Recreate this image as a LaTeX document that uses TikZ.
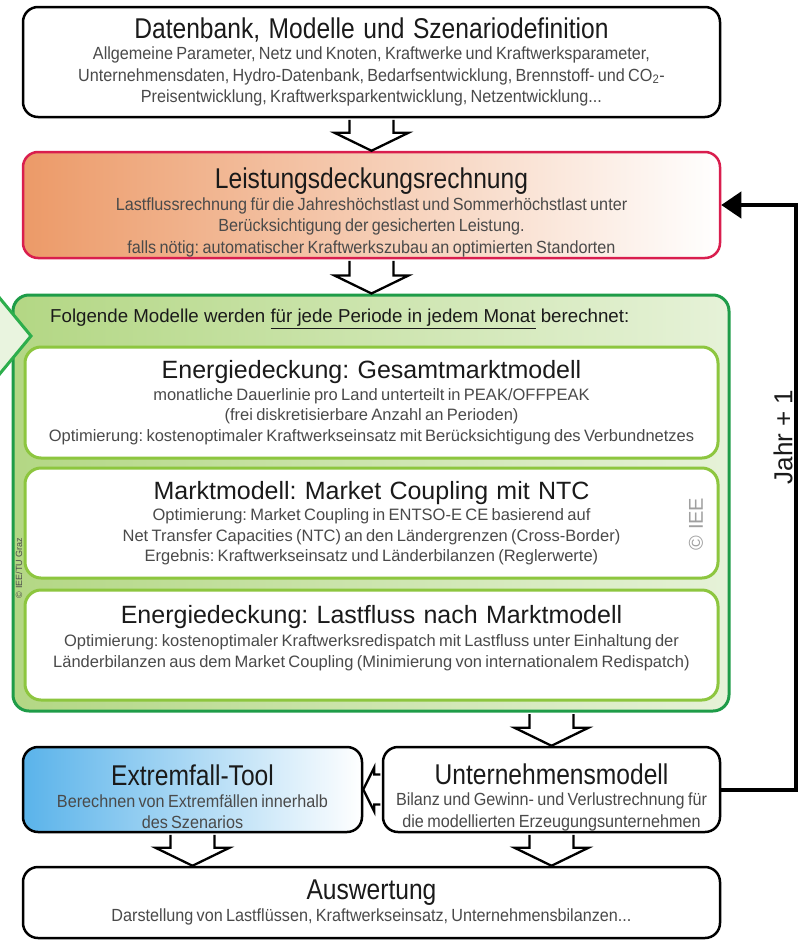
\documentclass[tikz,border=0pt]{standalone}
\usepackage{fontspec}
\setmainfont{Liberation Sans}
\newfontfamily\condfont[FakeStretch=0.86]{Liberation Sans}
\newfontfamily\subfont[FakeStretch=0.92]{Liberation Sans}
\usetikzlibrary{arrows.meta,calc}
\frenchspacing
\definecolor{txtdark}{HTML}{1A1A1A}
\definecolor{txtgray}{HTML}{4A4A4A}
\definecolor{redborder}{HTML}{D91E4E}
\definecolor{orangeL}{HTML}{EC9A68}
\definecolor{greenDark}{HTML}{1E9C48}
\definecolor{greenMid}{HTML}{2DAE4C}
\definecolor{greenLight}{HTML}{8DC63F}
\definecolor{greenFillL}{HTML}{B3D784}
\definecolor{greenFillR}{HTML}{E6F2D8}
\definecolor{chevFill}{HTML}{E9F4DF}
\definecolor{blueL}{HTML}{5AB3EA}
\definecolor{copygray}{HTML}{A0A0A0}
\newcommand\ttl[1]{{\condfont\fontsize{28.6}{32}\selectfont\spaceskip=0.3em\color{txtdark}#1\par}}
\newcommand\csub[1]{{\subfont\fontsize{17.6}{21.5}\selectfont\color{txtgray}#1\par}}
\newcommand\ntl[1]{{\fontsize{25}{28}\selectfont\spaceskip=0.33em\color{txtdark}#1\par}}
\newcommand\nsub[1]{{\fontsize{16.5}{20.5}\selectfont\color{txtgray}#1\par}}
\newcommand\hdown[2]{%
  \path[hollowarr] let \p1=(#1), \p2=(#2) in
   (\x1-22pt,\y1-1.5pt) -- (\x1-22pt,\y2+18pt) -- (\x1-37pt,\y2+18pt) -- (\x1,\y2)
   -- (\x1+37pt,\y2+18pt) -- (\x1+22pt,\y2+18pt) -- (\x1+22pt,\y1-1.5pt);}
\newcommand\hleft[2]{%
  \path[hollowarr] let \p1=(#1), \p2=(#2) in
   (\x1-1.5pt,\y1+15pt) -- (\x2+11pt,\y1+15pt) -- (\x2+11pt,\y1+22pt) -- (\x2,\y1)
   -- (\x2+11pt,\y1-22pt) -- (\x2+11pt,\y1-15pt) -- (\x1-1.5pt,\y1-15pt);}
\begin{document}
\begin{tikzpicture}[x=1pt,y=-1pt,
  box/.style={draw=black, line width=2.5pt, rounded corners=15pt, fill=white,
    align=center, inner sep=0pt},
  inbox/.style={draw=greenLight, line width=3pt, rounded corners=16pt, fill=white,
    align=center, inner sep=0pt, text width=693pt},
  hollowarr/.style={draw=black, line width=2.3pt, fill=white, line join=miter},
  loopline/.style={line width=4pt, -{Triangle[length=20pt,width=26pt]}}]
\useasboundingbox (0,0) rectangle (800,940);

% top box
\node[box, text width=697pt, minimum height=110pt] (top) at (371.5,62)
  {\ttl{Datenbank, Modelle und Szenariodefinition}
   \csub{Allgemeine Parameter, Netz und Knoten, Kraftwerke und Kraftwerksparameter,\\
   Unternehmensdaten, Hydro-Datenbank, Bedarfsentwicklung, Brennstoff- und CO\textsubscript{2}-\\
   Preisentwicklung, Kraftwerksparkentwicklung, Netzentwicklung...}};

% Leistungsdeckungsrechnung
\node[box, draw=redborder, left color=orangeL, right color=white,
  text width=697pt, minimum height=106pt] (leist) at (371.5,205)
  {\ttl{\rule{0pt}{36pt}Leistungsdeckungsrechnung}
   \csub{Lastflussrechnung für die Jahreshöchstlast und Sommerhöchstlast unter\\
   Berücksichtigung der gesicherten Leistung.\\
   falls nötig: automatischer Kraftwerkszubau an optimierten Standorten}};

% green outer
\node[draw=greenDark, line width=3pt, rounded corners=16pt,
  left color=greenFillL, right color=greenFillR,
  minimum width=716pt, minimum height=416pt] (green) at (371,503) {};

% chevron
\filldraw[draw=greenMid, fill=chevFill, line width=3pt, line join=miter]
  (-2,296) -- (31,336) -- (-2,376);

\node[anchor=west, inner sep=0pt, text=txtdark, font=\fontsize{18.7}{21}\selectfont] (intro) at (50,319)
  {Folgende Modelle werden \underline{für jede Periode in jedem Monat} berechnet:};

\node[inbox, minimum height=111pt] (e1) at (371.5,402.5)
  {\ntl{Energiedeckung: Gesamtmarktmodell}\vspace{1pt}
   \nsub{monatliche Dauerlinie pro Land unterteilt in PEAK/OFFPEAK\\
   (frei diskretisierbare Anzahl an Perioden)\\
   Optimierung: kostenoptimaler Kraftwerkseinsatz mit Berücksichtigung des Verbundnetzes}};

\node[inbox, minimum height=110pt] (e2) at (371.5,523)
  {\ntl{Marktmodell: Market Coupling mit NTC}\vspace{1pt}
   \nsub{Optimierung: Market Coupling in ENTSO-E CE basierend auf\\
   Net Transfer Capacities (NTC) an den Ländergrenzen (Cross-Border)\\
   Ergebnis: Kraftwerkseinsatz und Länderbilanzen (Reglerwerte)}};

\node[inbox, minimum height=110pt] (e3) at (371.5,645)
  {\ntl{Energiedeckung: Lastfluss nach Marktmodell}\vspace{3pt}
   \nsub{Optimierung: kostenoptimaler Kraftwerksredispatch mit Lastfluss unter Einhaltung der\\
   Länderbilanzen aus dem Market Coupling (Minimierung von internationalem Redispatch)\rule[-18pt]{0pt}{0pt}}};

\node[rotate=90, text=copygray, inner sep=0pt, font=\fontsize{20}{20}\selectfont] (iee) at (696,524)
  {© IEE};
\node[rotate=90, text=txtgray, inner sep=0pt, font=\fontsize{9}{9}\selectfont] (ieetu) at (19,568)
  {© IEE/TU Graz};

% lower boxes
\node[box, left color=blueL, right color=white,
  text width=339pt, minimum height=85pt] (ext) at (192.5,789.5)
  {\ttl{\rule{0pt}{36pt}Extremfall-Tool}
   \csub{Berechnen von Extremfällen innerhalb\\ des Szenarios}};
\node[box, text width=337pt, minimum height=85pt] (unt) at (551.5,789.5)
  {\ttl{\rule{0pt}{36pt}Unternehmensmodell}
   \csub{Bilanz und Gewinn- und Verlustrechnung für\\ die modellierten Erzeugungsunternehmen}};
\node[box, text width=697pt, minimum height=71pt] (ausw) at (371.5,902.5)
  {\ttl{Auswertung}
   \csub{Darstellung von Lastflüssen, Kraftwerkseinsatz, Unternehmensbilanzen...}};

% hollow arrows
\hdown{top.south}{leist.north}
\hdown{leist.south}{green.north}
\hdown{green.south -| unt.north}{unt.north}
\hdown{ext.south}{ext.south |- ausw.north}
\hdown{unt.south}{unt.south |- ausw.north}
\hleft{unt.west}{ext.east}

% loop
\draw[loopline] (unt.east) -- ++(75,0) coordinate (lc) |- (leist.east);
\node[rotate=90, inner sep=0pt, text=txtdark, font=\fontsize{26}{26}\selectfont] (jahr) at (783,437)
  {Jahr + 1};
\end{tikzpicture}
\end{document}
